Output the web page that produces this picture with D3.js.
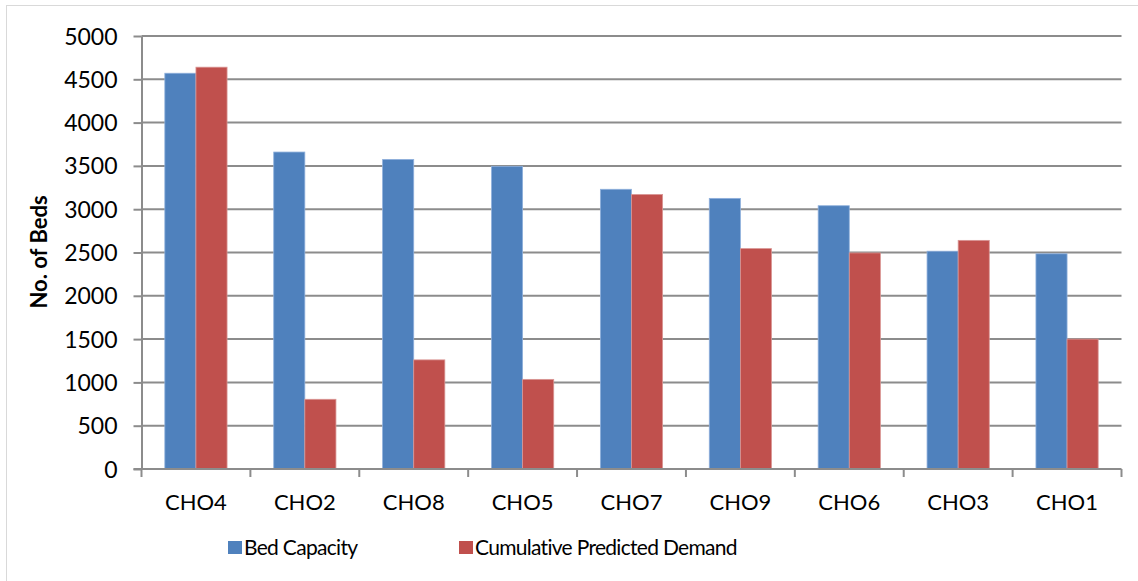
<!doctype html>
<html lang="en">
<head>
  <meta charset="utf-8" />
  <title>Bed capacity vs cumulative predicted demand</title>
  <script src="https://cdn.jsdelivr.net/npm/d3@7"></script>
  <style>
    body { margin: 0; background: #fff; }
    svg text { font-family: Lato, "Open Sans", sans-serif; fill: #000; }
  </style>
</head>
<body>
  <div id="chart"></div>
  <script>
    // data
    const categories = ["CHO4", "CHO2", "CHO8", "CHO5", "CHO7", "CHO9", "CHO6", "CHO3", "CHO1"];
    const bedCapacity = [4570, 3660, 3575, 3495, 3230, 3125, 3040, 2515, 2485];
    const predictedDemand = [4640, 805, 1260, 1035, 3170, 2545, 2495, 2640, 1500];
    const seriesNames = ["Bed Capacity", "Cumulative Predicted Demand"];
    const yTicks = [0, 500, 1000, 1500, 2000, 2500, 3000, 3500, 4000, 4500, 5000];

    const colors = ["#4f81bd", "#c0504d"];
    const edge = ["#8fb0dc", "#d99694"];

    const w = 1138, h = 581;
    const plotLeft = 141.5, plotRight = 1121.5, plotTop = 36, plotBottom = 469;

    const svg = d3.select("#chart").append("svg").attr("width", w).attr("height", h);

    // outer chart frame
    svg.append("rect")
      .attr("x", 6.5).attr("y", 5.5)
      .attr("width", 1140).attr("height", 600)
      .attr("fill", "none").attr("stroke", "#d9d9d9").attr("stroke-width", 1);

    const x = d3.scaleBand().domain(categories).range([plotLeft, plotRight]).padding(0);
    const y = d3.scaleLinear().domain([0, 5000]).range([plotBottom, plotTop]);

    // inner scale for the two bars in each group
    const xs = d3.scaleBand().domain([0, 1])
      .range([0, x.bandwidth()]).paddingOuter(0.75).paddingInner(0);

    // gridlines
    svg.append("g")
      .selectAll("line")
      .data(yTicks.filter(d => d > 0))
      .join("line")
      .attr("x1", plotLeft).attr("x2", plotRight)
      .attr("y1", d => y(d)).attr("y2", d => y(d))
      .attr("stroke", "#8c8c8c").attr("stroke-width", 2);

    // bars
    const rows = categories.map((c, i) => [bedCapacity[i], predictedDemand[i]]);
    const groups = svg.append("g")
      .selectAll("g")
      .data(rows)
      .join("g")
      .attr("transform", (d, i) => `translate(${x(categories[i])},0)`);

    groups.selectAll("rect")
      .data(d => d)
      .join("rect")
      .attr("x", (d, j) => xs(j))
      .attr("width", xs.bandwidth())
      .attr("y", d => y(d))
      .attr("height", d => y(0) - y(d))
      .attr("fill", (d, j) => colors[j])
      .attr("stroke", (d, j) => edge[j])
      .attr("stroke-width", 0.8);

    // y axis
    const yAxis = svg.append("g")
      .attr("transform", `translate(${plotLeft},0)`)
      .call(d3.axisLeft(y).tickValues(yTicks).tickFormat(d3.format("d"))
        .tickSize(8).tickSizeOuter(0).tickPadding(16));
    yAxis.select(".domain").attr("stroke", "#8c8c8c").attr("stroke-width", 2);
    yAxis.selectAll(".tick line").attr("stroke", "#8c8c8c").attr("stroke-width", 2);
    yAxis.selectAll(".tick text").style("font-size", "23px").attr("dy", "0.35em");

    // x axis: labels at band centres, ticks at band edges
    const xAxis = svg.append("g")
      .attr("transform", `translate(0,${plotBottom})`)
      .call(d3.axisBottom(x).tickSize(0).tickPadding(25));
    xAxis.select(".domain").remove();
    xAxis.selectAll(".tick text").style("font-size", "22px");

    svg.append("line")
      .attr("x1", plotLeft - 8).attr("x2", plotRight)
      .attr("y1", plotBottom).attr("y2", plotBottom)
      .attr("stroke", "#8c8c8c").attr("stroke-width", 2);

    svg.append("g")
      .selectAll("line")
      .data(categories.map(c => x(c)).concat([plotRight]))
      .join("line")
      .attr("x1", d => d).attr("x2", d => d)
      .attr("y1", plotBottom).attr("y2", plotBottom + 8)
      .attr("stroke", "#8c8c8c").attr("stroke-width", 2);

    // y title
    svg.append("text")
      .attr("transform", "translate(47,252) rotate(-90)")
      .attr("text-anchor", "middle")
      .style("font-size", "22px")
      .style("font-weight", "bold")
      .text("No. of Beds");

    // legend
    const legendX = [228, 459];
    const legend = svg.append("g")
      .selectAll("g")
      .data(seriesNames)
      .join("g")
      .attr("transform", (d, i) => `translate(${legendX[i]},541)`);

    legend.append("rect")
      .attr("width", 14).attr("height", 13)
      .attr("fill", (d, i) => colors[i]);

    legend.append("text")
      .attr("x", 16).attr("y", 14)
      .style("font-size", "21px")
      .style("letter-spacing", "-0.7px")
      .text(d => d);
  </script>
</body>
</html>
